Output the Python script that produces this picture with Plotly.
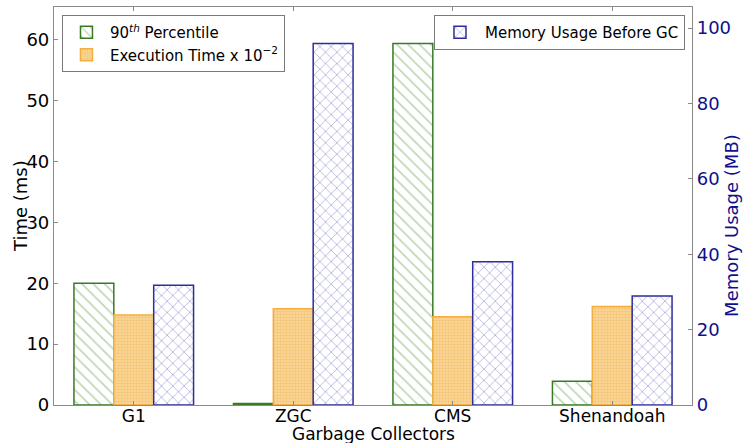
import plotly.graph_objects as go

collectors = ["G1", "ZGC", "CMS", "Shenandoah"]
p90_ms = [20.0, 0.25, 59.4, 3.9]
exec_time_scaled = [14.8, 15.8, 14.5, 16.2]
memory_mb = [31.8, 95.9, 38.0, 28.9]

font_family = "DejaVu Sans"
green_edge = "#3a7a25"
green_hatch = "#7fb26a"
orange_edge = "#f3ae3d"
orange_hatch = "#f2b04a"
blue_edge = "#2e2e9c"
blue_hatch = "#7474c4"
navy = "#10108a"
spine = "#8a8a8a"

fig = go.Figure()
fig.add_trace(go.Bar(
    x=collectors, y=p90_ms, name="90<sup><i>th</i></sup> Percentile",
    offsetgroup="a", yaxis="y", legend="legend",
    marker=dict(color="white", line=dict(color=green_edge, width=1.5),
                pattern=dict(shape="\\", fgcolor=green_hatch, bgcolor="white",
                             size=8, solidity=0.22, fillmode="overlay")),
))
fig.add_trace(go.Bar(
    x=collectors, y=exec_time_scaled, name="Execution Time x 10<sup>−2</sup>",
    offsetgroup="b", yaxis="y", legend="legend",
    marker=dict(color="white", line=dict(color=orange_edge, width=1.5),
                pattern=dict(shape=".", fgcolor=orange_hatch, bgcolor="#fadba2",
                             size=3, solidity=0.6, fillmode="overlay")),
))
fig.add_trace(go.Bar(
    x=collectors, y=memory_mb, name="Memory Usage Before GC",
    offsetgroup="c", yaxis="y2", legend="legend2",
    marker=dict(color="white", line=dict(color=blue_edge, width=1.5),
                pattern=dict(shape="x", fgcolor=blue_hatch, bgcolor="white",
                             size=8, solidity=0.22, fillmode="overlay")),
))

fig.update_layout(
    width=743, height=443,
    margin=dict(l=54, r=51, t=7, b=38),
    paper_bgcolor="white", plot_bgcolor="white",
    font=dict(family=font_family, size=17, color="black"),
    barmode="group", bargap=0.25, bargroupgap=0,
    xaxis=dict(
        range=[-0.5, 3.5], showline=True, linecolor=spine, linewidth=1.2,
        mirror="ticks", ticks="inside", ticklen=4, tickcolor=spine,
        showgrid=False, automargin=False, ticklabelstandoff=-5,
        tickfont=dict(size=17),
    ),
    yaxis=dict(
        range=[0, 65.4], dtick=10, showline=True, linecolor=spine, linewidth=1.2,
        ticks="inside", ticklen=4, tickcolor=spine, showgrid=False,
        zeroline=False, automargin=False,
        tickfont=dict(size=18),
    ),
    yaxis2=dict(
        range=[0, 105.6], dtick=20, overlaying="y", side="right",
        showline=True, linecolor=spine, linewidth=1.2,
        ticks="inside", ticklen=4, tickcolor=spine, showgrid=False,
        zeroline=False, automargin=False,
        tickfont=dict(size=18, color=navy),
    ),
    legend=dict(
        x=0.0125, y=0.98, xanchor="left", yanchor="top",
        bordercolor="#7a7a7a", borderwidth=1, bgcolor="white",
        font=dict(size=15, family=font_family), itemwidth=37,
        tracegroupgap=0,
    ),
    legend2=dict(
        x=0.989, y=0.98, xanchor="right", yanchor="top",
        bordercolor="#7a7a7a", borderwidth=1, bgcolor="white",
        font=dict(size=15, family=font_family), itemwidth=40,
    ),
    annotations=[
        dict(text="Garbage Collectors", xref="paper", yref="paper", x=0.5, y=0,
             xanchor="center", yanchor="middle", yshift=-29, showarrow=False,
             font=dict(size=17, color="black")),
        dict(text="Time (ms)", xref="paper", yref="paper", x=0, y=0.5,
             xanchor="center", yanchor="middle", xshift=-34, textangle=-90,
             showarrow=False, font=dict(size=18, color="black")),
        dict(text="Memory Usage (MB)", xref="paper", yref="paper", x=1, y=0.45,
             xanchor="center", yanchor="middle", xshift=40, textangle=-90,
             showarrow=False, font=dict(size=18, color=navy)),
    ],
)

fig.write_html("out.html", config={"displayModeBar": False},
               post_script="document.body.style.margin='0px';")
